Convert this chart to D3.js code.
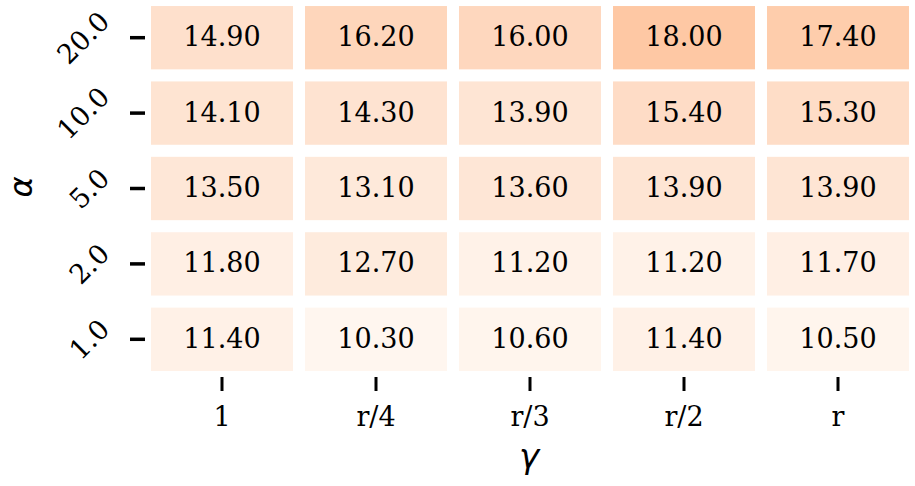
<!DOCTYPE html>
<meta charset="utf-8">
<head>
  <title>alpha-gamma heatmap</title>
</head>
<style>
  body { margin: 0; background: #fff; }
  svg text { font-family: "DejaVu Serif", serif; }
</style>
<body>
  <svg width="915" height="486"></svg>

  <script src="https://cdn.jsdelivr.net/npm/d3@7"></script>
  <script>
    var gammas = ['1', 'r/4', 'r/3', 'r/2', 'r'];
    var alphas = ['20.0', '10.0', '5.0', '2.0', '1.0'];

    // one row per alpha, top to bottom
    var row20 = [14.90, 16.20, 16.00, 18.00, 17.40];
    var row10 = [14.10, 14.30, 13.90, 15.40, 15.30];
    var row5 = [13.50, 13.10, 13.60, 13.90, 13.90];
    var row2 = [11.80, 12.70, 11.20, 11.20, 11.70];
    var row1 = [11.40, 10.30, 10.60, 11.40, 10.50];
    var rows = [row20, row10, row5, row2, row1];

    var cells = [];
    rows.forEach(function(r, i) {
      r.forEach(function(v, j) {
        cells.push({ alpha: alphas[i], gamma: gammas[j], value: v });
      });
    });

    var svg = d3.select('svg');

    var x = d3.scaleBand().domain(gammas).range([145, 915])
      .paddingInner(0.078).paddingOuter(0.039);
    var y = d3.scaleBand().domain(alphas).range([0, 377])
      .paddingInner(0.16).paddingOuter(0.08);

    // pale end of the Oranges map
    var color = d3.scaleLinear()
      .domain([10.3, 14.9, 18.0])
      .range(['#fff6ef', '#fee0cc', '#fec8a4']);

    svg.append('g').selectAll('rect')
      .data(cells)
      .enter()
      .append('rect')
      .attr('x', function(d) { return x(d.gamma); })
      .attr('y', function(d) { return y(d.alpha); })
      .attr('width', x.bandwidth())
      .attr('height', y.bandwidth())
      .style('fill', function(d) { return color(d.value); });

    svg.append('g').selectAll('text')
      .data(cells)
      .enter()
      .append('text')
      .attr('x', function(d) { return x(d.gamma) + x.bandwidth() / 2; })
      .attr('y', function(d) { return y(d.alpha) + y.bandwidth() / 2 - 1; })
      .attr('text-anchor', 'middle')
      .attr('dominant-baseline', 'central')
      .style('font-size', '27px')
      .style('fill', '#000')
      .text(function(d) { return d.value.toFixed(2); });

    // x axis
    var xg = svg.append('g')
      .attr('transform', 'translate(0,377)')
      .call(d3.axisBottom(x).tickSize(14).tickPadding(16));
    xg.select('.domain').remove();
    xg.selectAll('.tick line').attr('stroke', '#000').attr('stroke-width', 3);
    xg.selectAll('.tick text')
      .attr('fill', '#000')
      .style('font-family', '"DejaVu Serif", serif')
      .style('font-size', '27px');

    // y axis
    var yg = svg.append('g')
      .attr('transform', 'translate(145,0)')
      .call(d3.axisLeft(y).tickSize(15));
    yg.select('.domain').remove();
    yg.selectAll('.tick line').attr('stroke', '#000').attr('stroke-width', 3.5);
    yg.selectAll('.tick text').each(function() {
      var el = d3.select(this);
      el.attr('fill', '#000')
        .style('font-family', '"DejaVu Serif", serif')
        .style('font-size', '27px')
        .attr('text-anchor', 'middle')
        .attr('dominant-baseline', 'central')
        .attr('dy', null)
        .attr('x', 0);
      var w = this.getComputedTextLength();
      var cx = -35 - (w + 16) / (2 * Math.SQRT2);
      el.attr('transform', 'translate(' + cx + ',0) rotate(-45)');
    });

    // axis titles
    svg.append('text')
      .attr('x', 529)
      .attr('y', 468)
      .attr('text-anchor', 'middle')
      .style('font-family', '"DejaVu Sans", sans-serif')
      .style('font-style', 'italic')
      .style('font-size', '34px')
      .text('\u03b3');

    svg.append('text')
      .attr('transform', 'translate(32,187) rotate(-90)')
      .attr('text-anchor', 'middle')
      .style('font-family', '"DejaVu Sans", sans-serif')
      .style('font-style', 'italic')
      .style('font-size', '32px')
      .text('\u03b1');
  </script>
</body>
